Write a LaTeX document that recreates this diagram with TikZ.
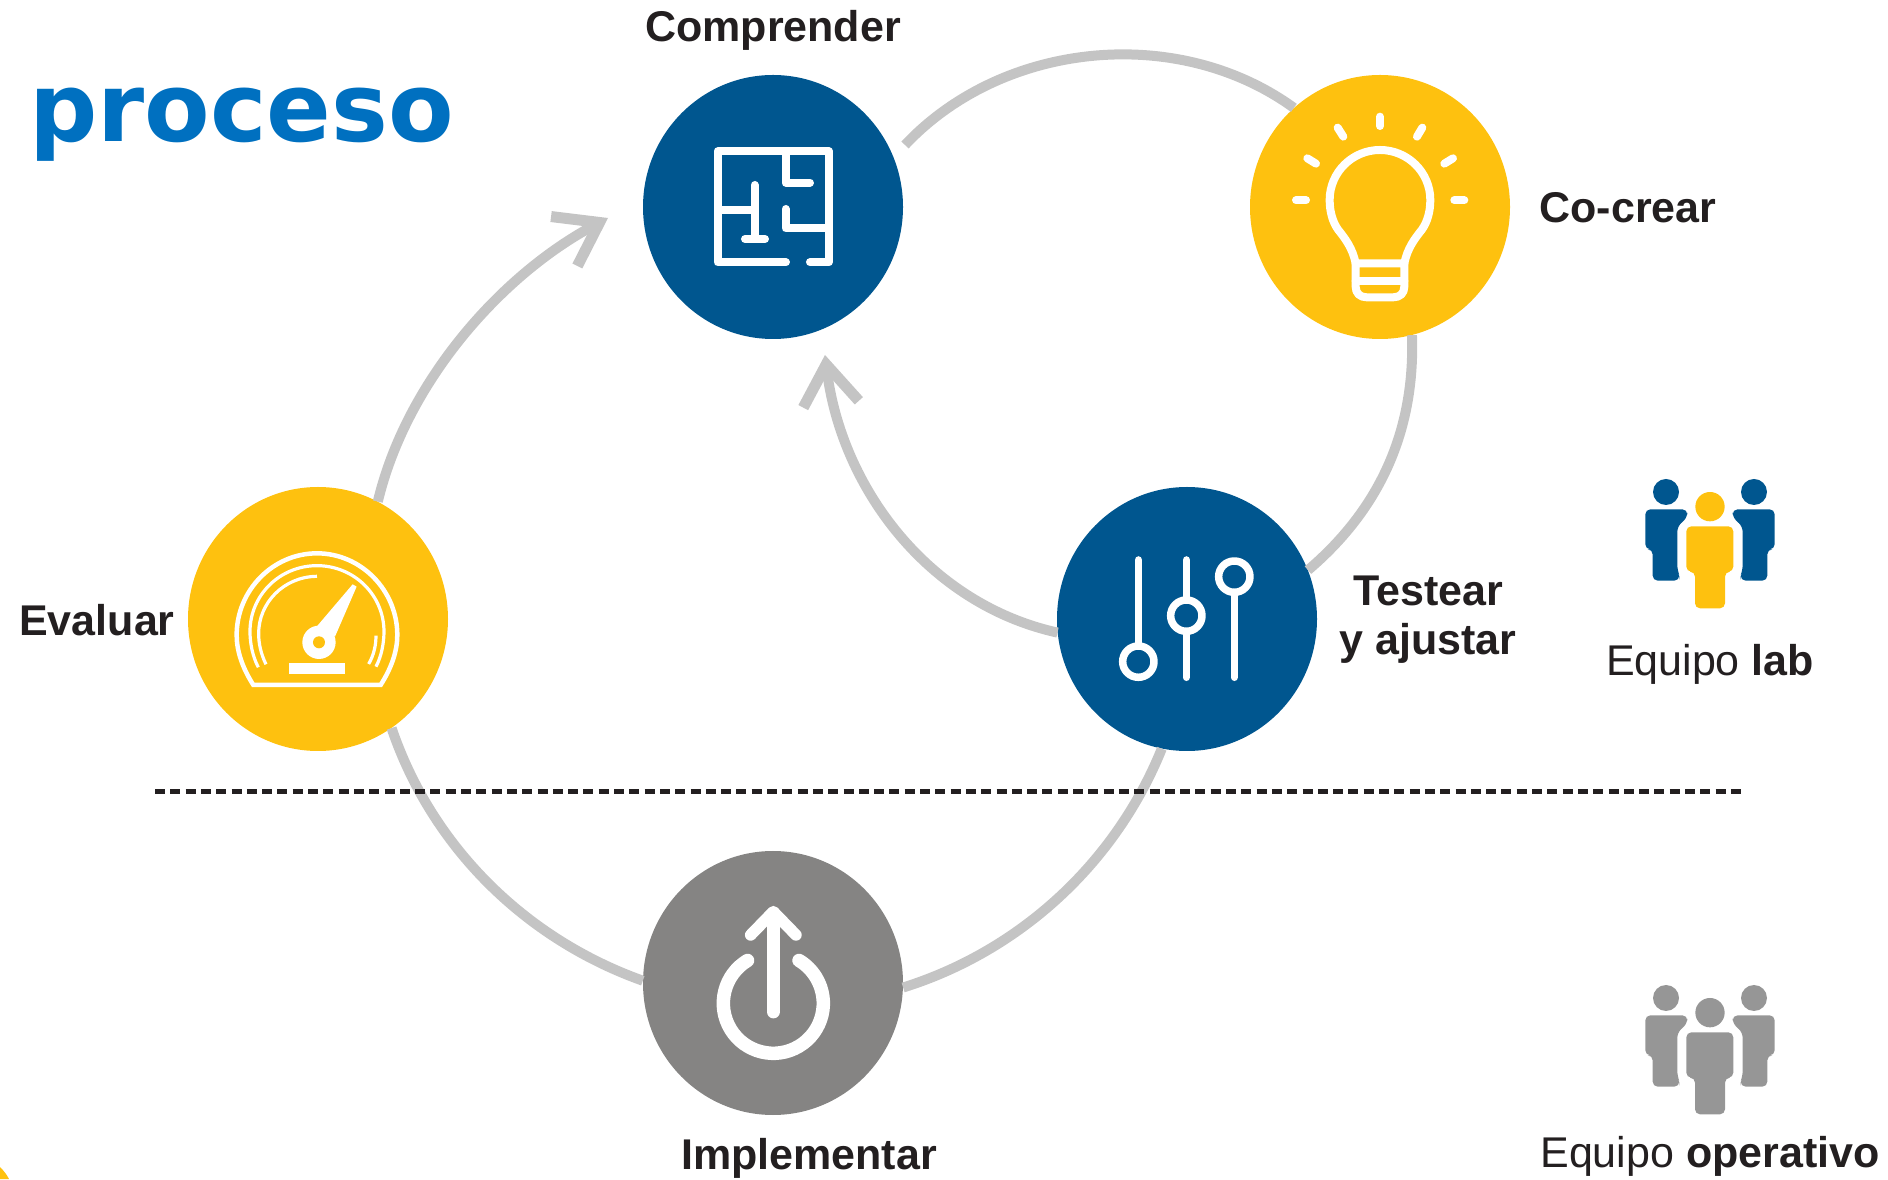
\documentclass[tikz,border=0pt]{standalone}
\usepackage{fontspec}
\setmainfont{Liberation Sans}
\newfontfamily\dejafont{DejaVu Sans}
\usetikzlibrary{arrows.meta,shapes.geometric}
\definecolor{labblue}{HTML}{00568F}
\definecolor{labyellow}{HTML}{FEC10F}
\definecolor{labgrey}{HTML}{858483}
\definecolor{peoplegrey}{HTML}{969696}
\definecolor{arcgrey}{HTML}{C4C4C4}
\definecolor{inkblack}{HTML}{231F20}
\definecolor{titleblue}{HTML}{0070C0}
\tikzset{
  stage/.style={ellipse,minimum width=260pt,minimum height=264pt,inner sep=0pt,draw=none},
  flow/.style={draw=arcgrey,line width=10pt},
  flowtip/.style={flow,-{Straight Barb[length=40pt,width=56pt,line width=11pt]}},
  caption/.style={font=\fontsize{43}{49}\selectfont\bfseries,text=inkblack,inner sep=0pt},
  teamlabel/.style={font=\fontsize{43}{49}\selectfont,text=inkblack,inner sep=0pt},
  icon/.style={draw=white,line cap=round,line join=round},
}
\newcommand{\peopleicon}[4]{%
  \begin{scope}[shift={(#1,#2)},x=0.3333pt,y=-0.3333pt]
    \fill[#3] (198,96) circle[radius=39];
    \fill[#3] (462,96) circle[radius=39];
    \fill[#3,rounded corners=5pt] (136,148) -- (262,148) -- (262,172) -- (232,200) -- (232,330) -- (238,345) -- (238,362) -- (158,362) -- (158,268) -- (136,268) -- cycle;
    \fill[#3,rounded corners=5pt] (524,148) -- (398,148) -- (398,172) -- (428,200) -- (428,330) -- (422,345) -- (422,362) -- (502,362) -- (502,268) -- (524,268) -- cycle;
    \fill[#4] (330,140) circle[radius=44];
    \fill[#4,rounded corners=5pt] (259,199) -- (400,199) -- (400,335) -- (375,335) -- (375,445) -- (285,445) -- (285,335) -- (259,335) -- cycle;
  \end{scope}}
\begin{document}
\begin{tikzpicture}[x=1pt,y=1pt]
\useasboundingbox (0,0) rectangle (1888,1179);
% corner remnant
\fill[labyellow] (0,12) .. controls (4,8) and (7,4) .. (9,0) -- (0,0) -- cycle;
% stages
\node[stage,fill=labblue]   (comprender) at (773,972) {};
\node[stage,fill=labyellow] (cocrear)    at (1380,972) {};
\node[stage,fill=labyellow] (evaluar)    at (318,560) {};
\node[stage,fill=labblue]   (testear)    at (1187,560) {};
\node[stage,fill=labgrey]   (implementar) at (773,196) {};
% free ends
\coordinate (topstart) at (905,1034);
\coordinate (innertip) at (825,824);
\coordinate (outertip) at (608,961);
% connectors (circle arcs as single curves)
\draw[flow] (topstart) to[out=46.8,in=144,distance=143pt] (cocrear.131);
\draw[flow] (cocrear.-76) to[out=-88,in=40.4,distance=95pt] (testear.22);
\draw[flowtip] (testear.186) to[out=167.5,in=-83,distance=133pt] (innertip);
\draw[flowtip] (evaluar.63) to[out=76.6,in=-152,distance=122pt] (outertip);
\draw[flow] (evaluar.-56) to[out=-71.3,in=160.4,distance=125pt] (implementar.179);
\draw[flow] (implementar.-2) to[out=17.4,in=-112,distance=123pt] (testear.-101);
% divider
\coordinate (divleft) at (155,387);
\coordinate (divright) at (1745,387);
\draw[inkblack,line width=5pt,dash pattern=on 10pt off 5.3pt] (divleft) -- (divright);
% floor plan
\begin{scope}[shift={(620,1119)},x=0.3333pt,y=-0.3333pt,icon,line width=8pt]
  \draw (498,607) -- (293,607) -- (293,274) -- (627,274) -- (627,607) -- (570,607);
  \draw (497,274) -- (497,368) -- (570,368);
  \draw[line cap=butt] (293,450) -- (404,450);
  \draw (404,375) -- (404,537);
  \draw (375,537) -- (435,537);
  \draw (497,447) -- (497,505) -- (627,505);
\end{scope}
% light bulb
\begin{scope}[shift={(1230,1119)},x=0.3333pt,y=-0.3333pt,icon,line width=8pt]
  \draw (450,170) -- (450,198);
  \draw (323,203) -- (340,230);
  \draw (577,203) -- (561,230);
  \draw (232,295) -- (258,311);
  \draw (669,295) -- (643,311);
  \draw (198,421) -- (228,421);
  \draw (673,421) -- (703,421);
  \draw (377,610) .. controls (368,565) and (345,535) .. (325,510)
        .. controls (308,487) and (299,455) .. (299,420)
        .. controls (299,337) and (367,270) .. (450,270)
        .. controls (533,270) and (601,337) .. (601,420)
        .. controls (601,455) and (592,487) .. (575,510)
        .. controls (555,535) and (532,565) .. (523,610);
  \draw (377,610) -- (523,610) -- (523,680) .. controls (523,700) and (510,712) .. (490,712)
        -- (410,712) .. controls (390,712) and (377,700) .. (377,680) -- cycle;
  \draw (377,662) -- (523,662);
\end{scope}
% gauge
\begin{scope}[shift={(170,709)},x=0.3333pt,y=-0.3333pt,icon]
  \draw[line width=4.5pt,line join=miter] (250,645) .. controls (215,590) and (200,540) .. (200,495)
     .. controls (200,362) and (308,250) .. (441,250)
     .. controls (574,250) and (682,362) .. (682,495)
     .. controls (682,540) and (667,590) .. (632,645) -- cycle;
  \draw[line width=3.2pt,line cap=butt] (265,592) .. controls (248,560) and (240,520) .. (240,485)
     .. controls (240,375) and (330,287) .. (441,287)
     .. controls (552,287) and (642,375) .. (642,485)
     .. controls (642,520) and (634,560) .. (618,590);
  \draw[line width=3.2pt,line cap=butt] (288,583) .. controls (272,550) and (266,520) .. (266,490)
     .. controls (266,400) and (340,320) .. (441,319);
  \draw[line width=3.2pt,line cap=butt] (596,582) .. controls (612,555) and (618,525) .. (618,497);
  \fill[white] (440,470) -- (548,343) -- (560,350) -- (495,500) -- cycle;
  \fill[white] (447,517) circle[radius=50];
  \fill[labyellow] (447,517) circle[radius=18];
  \fill[white] (358,578) rectangle (525,612);
\end{scope}
% sliders
\begin{scope}[shift={(1040,709)},x=0.3333pt,y=-0.3333pt,icon,line width=7.5pt]
  \draw (295,270) -- (295,528);
  \draw (295,575) circle[radius=47];
  \draw (439,270) -- (439,390);
  \draw (439,484) -- (439,622);
  \draw (439,437) circle[radius=47];
  \draw (583,367) -- (583,622);
  \draw (583,320) circle[radius=47];
\end{scope}
% power arrow
\begin{scope}[shift={(620,339)},x=0.3333pt,y=-0.3333pt,icon]
  \draw[line width=13.5pt] (460,220) -- (460,515);
  \draw[line width=11.5pt] (392,285) -- (460,215) -- (528,285);
  \draw[line width=13.5pt] (460,490) ++(239:150) arc[start angle=239,end angle=-59,radius=150];
\end{scope}
% people
\peopleicon{1600}{719}{labblue}{labyellow}
\peopleicon{1600}{213}{peoplegrey}{peoplegrey}
% texts
\node[anchor=base west,inner sep=0pt,text=titleblue,font=\dejafont\fontsize{95.5}{100}\selectfont\bfseries] (title) at (29,1037) {proceso};
\node[caption] (lblcomp) at (773,1149) {Comprender};
\node[caption] (lblco) at (1628,971) {Co-crear};
\node[caption] (lbleval) at (97,559) {Evaluar};
\node[caption,align=center] (lbltest) at (1428,559) {Testear\\y ajustar};
\node[caption] (lblimpl) at (809,21) {Implementar};
\node[teamlabel] (lbllab) at (1710,515) {Equipo \textbf{lab}};
\node[teamlabel] (lblop) at (1710,23) {Equipo \textbf{operativo}};
\end{tikzpicture}
\end{document}
